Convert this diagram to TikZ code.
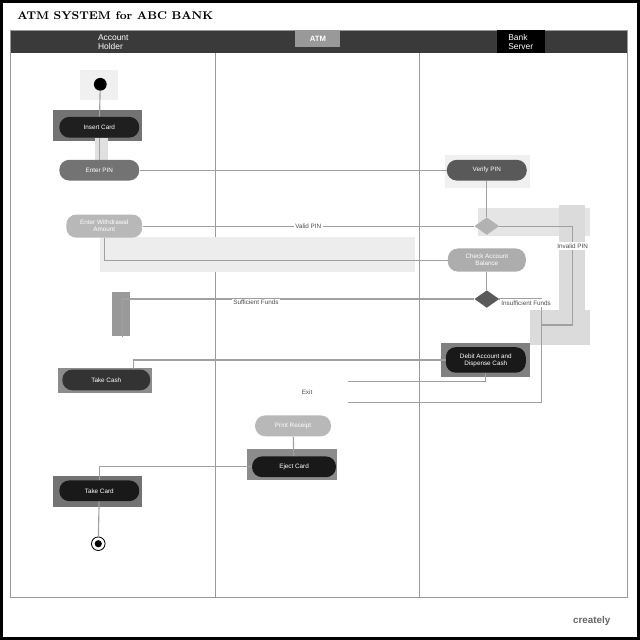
\documentclass[tikz,border=0pt]{standalone}
\usepackage{fontspec}
\newfontfamily\labelfont{Liberation Sans}
\usetikzlibrary{shapes.geometric}
\definecolor{hdrgray}{HTML}{3A3A3A}
\definecolor{flowgray}{HTML}{A0A0A0}
\begin{document}
\begin{tikzpicture}[x=0.025cm,y=-0.025cm,
	act/.style={rounded corners=0.25cm,minimum width=2cm,minimum height=0.52cm,text=white,align=center,inner sep=1pt,font=\labelfont\fontsize{4.5}{5}\selectfont},
	dec/.style={shape=diamond,minimum width=0.62cm,minimum height=0.44cm,inner sep=0pt},
	flow/.style={draw=flowgray,line width=0.8pt},
	lbl/.style={fill=white,inner sep=1pt,text=black!70,font=\labelfont\fontsize{4.5}{5}\selectfont},
	hilite/.style={fill=black!#1}]
			% Fondo y marco
			\fill[white] (0,0) rectangle (640,640);
			\draw[line width=2pt] (1,1) rectangle (639,639);
			\node[anchor=west,font=\bfseries\footnotesize] (title) at (12,15) {ATM SYSTEM for ABC BANK};

			% Carriles
			\fill[hdrgray] (10,30) rectangle (628,53);
			\draw[black!40] (10,30) rectangle (628,598);
			\draw[black!40,line width=0.8pt] (215,53) -- (215,598);
			\draw[black!40,line width=0.8pt] (420,53) -- (420,598);
			\node[text=white,align=left,font=\labelfont\fontsize{6}{6.5}\selectfont] (laneA) at (113,42) {Account\\Holder};
			\fill[black!40] (295,30) rectangle (340,47);
			\node[text=white,font=\labelfont\bfseries\fontsize{5.5}{6}\selectfont] (laneB) at (318,38) {ATM};
			\fill[black] (497,30) rectangle (545,53);
			\node[text=white,align=left,font=\labelfont\fontsize{6}{6.5}\selectfont] (laneC) at (521,42) {Bank\\Server};

			% Marcas de seleccion
			\fill[hilite=6] (80,70) rectangle (118,100);
			\fill[hilite=55] (53,110) rectangle (142,141);
			\fill[hilite=12] (95,138) rectangle (108,160);
			\fill[hilite=6] (445,155) rectangle (530,188);
			\fill[hilite=7] (100,237) rectangle (415,272);
			\fill[hilite=10] (478,208) rectangle (590,236);
			\fill[hilite=14] (559,205) rectangle (585,345);
			\fill[hilite=14] (530,310) rectangle (590,345);
			\fill[hilite=40] (112,292) rectangle (130,336);
			\fill[hilite=45] (58,368) rectangle (152,393);
			\fill[hilite=50] (441,343) rectangle (530,377);
			\fill[hilite=45] (247,449) rectangle (337,480);
			\fill[hilite=55] (53,476) rectangle (142,507);

			% Actividades
			\node[circle,fill=black,minimum size=0.32cm,inner sep=0pt] (start) at (100,84) {};
			\node[act,fill=black!88] (insert) at (99,127) {Insert Card};
			\node[act,fill=black!55] (pin) at (99,170) {Enter PIN};
			\node[act,fill=black!28,minimum width=1.9cm,minimum height=0.58cm] (amount) at (104,226) {Enter Withdrawal\\Amount};
			\node[act,fill=black!65] (verify) at (487,170) {Verify PIN};
			\node[dec,fill=black!30] (dvalid) at (487,226) {};
			\node[act,fill=black!32,minimum width=1.95cm,minimum height=0.58cm] (check) at (487,260) {Check Account\\Balance};
			\node[dec,fill=black!65] (dfunds) at (487,299) {};
			\node[act,fill=black!90,minimum height=0.64cm] (dispense) at (486,360) {Debit Account and\\Dispense Cash};
			\node[act,fill=black!80,minimum width=2.2cm] (takecash) at (106,380) {Take Cash};
			\node[act,fill=black!28,minimum width=1.9cm] (receipt) at (293,426) {Print Receipt};
			\node[act,fill=black!90,minimum width=2.1cm] (eject) at (294,467) {Eject Card};
			\node[act,fill=black!90] (takecard) at (99,491) {Take Card};
			\node[circle,draw=black,line width=0.6pt,minimum size=0.34cm,inner sep=0pt] (end) at (98,544) {};
			\fill[black] (end.center) circle (0.09cm);

			% Flujos
			\coordinate (sfend) at (122,337);
			\coordinate (invA) at (573,325);
			\coordinate (invB) at (542,325);
			\coordinate (exitA) at (348,403);
			\coordinate (exitB) at (348,382);
			\draw[flow] (start) -- (insert);
			\draw[flow] (insert) -- (pin);
			\draw[flow] (pin) -- (verify);
			\draw[flow] (verify) -- (dvalid);
			\draw[flow] (dvalid.west) -- node[lbl]{Valid PIN} (amount.east);
			\draw[flow] (amount.south) |- (check.west);
			\draw[flow] (check) -- (dfunds);
			\draw[flow] (dfunds.west) -| node[lbl,pos=0.31,yshift=-0.08cm]{Sufficient Funds} (sfend);
			\draw[flow] (dvalid.east) -| node[lbl,pos=0.6]{Invalid PIN} (invA) -- (invB) |- (exitA);
			\draw[flow] (dfunds.east) -| (invB);
			\node[lbl,anchor=west] (insuf) at (500,303) {Insufficient Funds};
			\draw[flow] (dispense.west) -| ([xshift=0.68cm]takecash.north);
			\draw[flow] (dispense.south) |- (exitB);
			\node[lbl] (exit) at (307,392) {Exit};
			\draw[flow] (receipt) -- (eject);
			\draw[flow] (eject.west) -| (takecard.north);
			\draw[flow] (takecard) -- (end);

			\node[text=black!60,font=\labelfont\bfseries\fontsize{7}{8}\selectfont] (brand) at (592,621) {creately};
\end{tikzpicture}
\end{document}
